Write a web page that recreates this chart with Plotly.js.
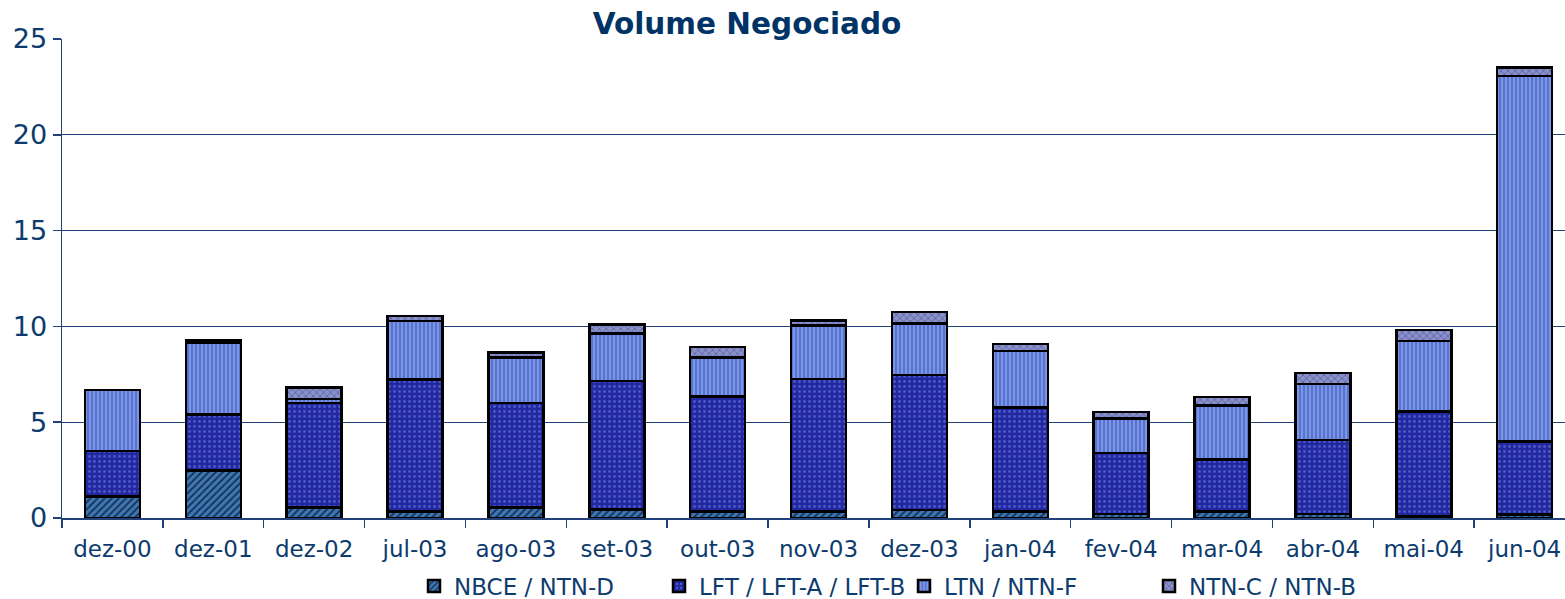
<!DOCTYPE html>
<html>
<head>
<meta charset="utf-8">
<script src="https://cdn.plot.ly/plotly-3.0.1.min.js"></script>
<style>html,body{margin:0;padding:0;background:#fff;}#chart{width:1565px;height:599px;}</style>
</head>
<body>
<div id="chart"></div>
<script>
const categories = ['dez-00','dez-01','dez-02','jul-03','ago-03','set-03','out-03','nov-03','dez-03','jan-04','fev-04','mar-04','abr-04','mai-04','jun-04'];
const nbce = [1.11, 2.47, 0.56, 0.33, 0.56, 0.45, 0.33, 0.33, 0.42, 0.33, 0.21, 0.33, 0.21, 0.10, 0.19];
const lft  = [2.40, 2.94, 5.43, 6.91, 5.43, 6.70, 6.00, 6.92, 7.04, 5.45, 3.17, 2.73, 3.86, 5.45, 3.79];
const ltn  = [3.17, 3.74, 0.21, 3.04, 2.38, 2.49, 2.04, 2.79, 2.70, 2.94, 1.82, 2.80, 2.92, 3.70, 19.09];
const ntnc = [0.00, 0.14, 0.60, 0.26, 0.26, 0.45, 0.55, 0.26, 0.58, 0.35, 0.33, 0.46, 0.59, 0.56, 0.45];
const seriesNames = ['NBCE / NTN-D', 'LFT / LFT-A / LFT-B', 'LTN / NTN-F', 'NTN-C / NTN-B'];
const yTicks = [0, 5, 10, 15, 20, 25];

const navy = '#0d3b6e';
const grid = '#22407a';
const line = {color: '#000', width: 2.5};

function bar(name, y, color, pattern) {
  return {type: 'bar', name: name, x: categories, y: y,
    marker: {color: color, line: line, pattern: Object.assign({bgcolor: color}, pattern)}};
}
const traces = [
  bar(seriesNames[0], nbce, '#3f78b0', {shape: '/', fgcolor: '#15305e', size: 5, solidity: 0.35}),
  bar(seriesNames[1], lft, '#2428a0', {shape: '.', fgcolor: '#4a5ac8', size: 5, solidity: 0.25}),
  bar(seriesNames[2], ltn, '#7a96e6', {shape: '|', fgcolor: '#4a62c4', size: 4, solidity: 0.35}),
  bar(seriesNames[3], ntnc, '#8a90c8', {shape: 'x', fgcolor: '#5a62a8', size: 5, solidity: 0.3})
];

const layout = {
  width: 1565, height: 599,
  margin: {l: 62, r: 0, t: 39, b: 81},
  barmode: 'stack',
  bargap: 0.455,
  paper_bgcolor: '#fff', plot_bgcolor: '#fff',
  font: {family: 'DejaVu Sans, Verdana, sans-serif', color: navy},
  title: {text: '<b>Volume Negociado</b>', font: {size: 29.5, color: '#003366', family: 'DejaVu Sans, Verdana, sans-serif'},
          x: 747/1565, xref: 'container', xanchor: 'center', y: 1 - 24/599, yref: 'container', yanchor: 'middle'},
  xaxis: {type: 'category', range: [-0.5, 14.4], tickson: 'boundaries', ticks: 'outside', ticklen: 8, tickcolor: grid, tickwidth: 1.5,
          ticklabelstandoff: 10,
          tickfont: {size: 23, color: navy}, showgrid: false, showline: true, linecolor: grid, linewidth: 1.5, fixedrange: true},
  yaxis: {range: [0, 25], tickvals: yTicks, ticktext: yTicks.map(String), ticks: 'outside', ticklen: 8, tickcolor: grid, tickwidth: 1.5,
          tickfont: {size: 27, color: navy}, showgrid: true, gridcolor: grid, gridwidth: 1, showline: true, linecolor: grid, linewidth: 1.5,
          zeroline: false},
  showlegend: true,
  legend: {orientation: 'h', xref: 'container', x: 414/1565, xanchor: 'left', yref: 'container', y: 1 - 586/599, yanchor: 'middle',
           font: {size: 23, color: navy}, traceorder: 'normal', itemwidth: 30, entrywidth: 200, bgcolor: 'rgba(0,0,0,0)'}
};

Plotly.newPlot('chart', traces, layout, {displayModeBar: false, staticPlot: true});
</script>
</body>
</html>
